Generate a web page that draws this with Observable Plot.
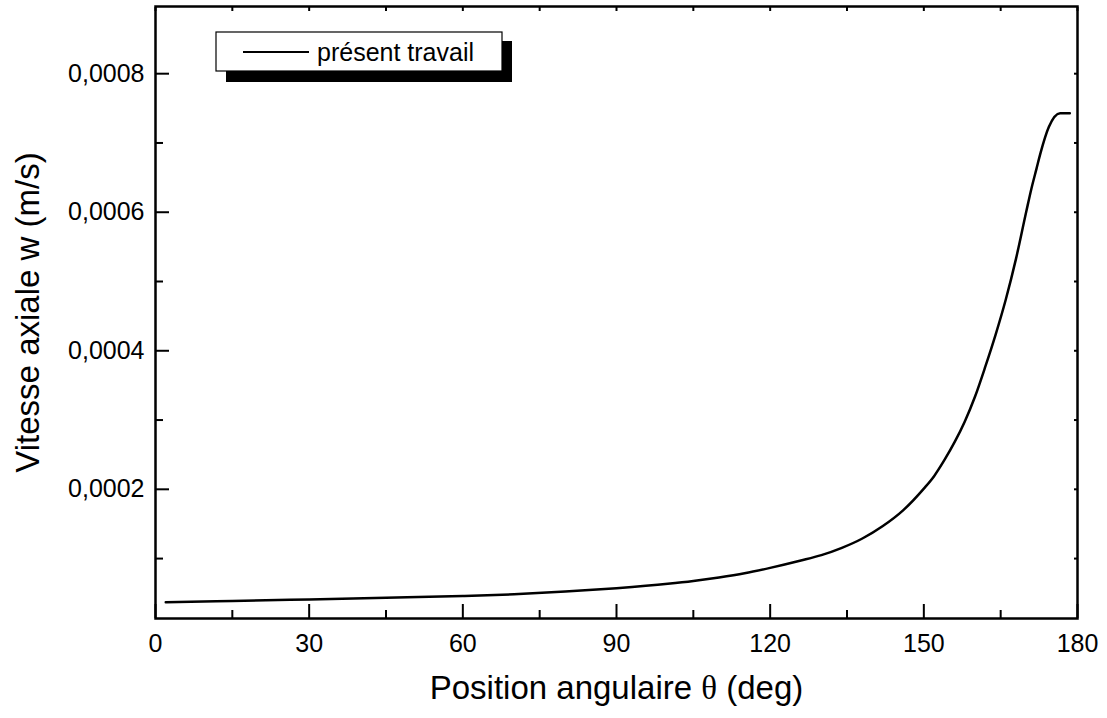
<!DOCTYPE html>
<html>
<head>
<meta charset="utf-8">
<script src="https://cdn.jsdelivr.net/npm/d3@7"></script>
<script src="https://cdn.jsdelivr.net/npm/@observablehq/plot@0.6"></script>
<style>
  html, body { margin: 0; padding: 0; background: #fff; }
  #chart svg { display: block; }
</style>
</head>
<body>
<div id="chart"></div>
<script>
// Axial velocity w along the angular position θ
const theta = [2, 15, 30, 45, 60, 70, 80, 90, 100, 105, 110, 115, 120, 126, 130, 134, 138, 142, 146, 150, 152, 154, 156, 158, 160, 162, 164, 166, 168, 170, 171, 172, 172.8, 174.4, 176.6, 178.5];
const w = [0.000037, 0.0000388, 0.000041, 0.0000434, 0.000046, 0.0000485, 0.0000523, 0.0000572, 0.0000635, 0.0000676, 0.0000727, 0.0000788, 0.0000866, 0.0000972, 0.000105, 0.0001155, 0.000129, 0.000147, 0.00017, 0.000201, 0.000219, 0.000242, 0.000268, 0.000298, 0.000334, 0.000377, 0.000423, 0.000474, 0.000533, 0.000601, 0.000634, 0.000663, 0.000686, 0.000723, 0.000743, 0.000743];

const xMajor = [0, 30, 60, 90, 120, 150, 180];
const xMinor = [15, 45, 75, 105, 135, 165];
const yMajor = [0.0002, 0.0004, 0.0006, 0.0008];
const yMinor = [0.0001, 0.0003, 0.0005, 0.0007];

const xTitle = "Position angulaire θ (deg)";
const yTitle = "Vitesse axiale w (m/s)";
const seriesName = "présent travail";

const rows = theta.map((t, i) => ({theta: t, w: w[i]}));
const frenchDecimal = d => d.toFixed(4).replace(".", ",");
const blank = () => "";

const plot = Plot.plot({
  width: 1107,
  height: 718,
  marginLeft: 155,
  marginRight: 30,
  marginTop: 6,
  marginBottom: 100,
  style: {fontFamily: "'Liberation Sans', Arial, sans-serif", fontSize: "25px", color: "#000", background: "#fff", overflow: "visible"},
  x: {domain: [0, 180]},
  y: {domain: [0.0000135, 0.000897]},
  marks: [
    // bottom axis: labels outside, ticks pointing into the frame
    Plot.axisX({ticks: xMajor, tickSize: 0, tickPadding: 16, label: null}),
    Plot.axisX({ticks: xMajor, tickSize: -14, tickFormat: blank, label: null, strokeWidth: 2}),
    Plot.axisX({ticks: xMinor, tickSize: -8, tickFormat: blank, label: null, strokeWidth: 2}),
    // top axis: short inward ticks only
    Plot.axisX({anchor: "top", ticks: xMajor.concat(xMinor), tickSize: -4, tickFormat: blank, label: null, strokeWidth: 2}),
    // left axis
    Plot.axisY({ticks: yMajor, tickSize: 0, tickPadding: 11, tickFormat: frenchDecimal, label: null}),
    Plot.axisY({ticks: yMajor, tickSize: -14, tickFormat: blank, label: null, strokeWidth: 2}),
    Plot.axisY({ticks: yMinor, tickSize: -8, tickFormat: blank, label: null, strokeWidth: 2}),
    // right axis: short inward ticks only
    Plot.axisY({anchor: "right", ticks: yMajor.concat(yMinor), tickSize: -4, tickFormat: blank, label: null, strokeWidth: 2}),
    Plot.frame({stroke: "#000", strokeWidth: 2.5}),
    Plot.line(rows, {x: "theta", y: "w", stroke: "#000", strokeWidth: 2.5, curve: "monotone-x"}),
    Plot.text([xTitle], {frameAnchor: "bottom", dy: 70, fontSize: 33, lineAnchor: "middle", textAnchor: "middle"}),
    Plot.text([yTitle], {frameAnchor: "left", dx: -127, rotate: -90, fontSize: 33, lineAnchor: "middle", textAnchor: "middle"})
  ]
});

// theta drawn in a serif face, like a symbol glyph
d3.select(plot).selectAll("text").each(function () {
  const t = this.textContent;
  if (!t.includes("θ")) return;
  const [before, after] = t.split("θ");
  const sel = d3.select(this);
  sel.text(null);
  sel.append("tspan").text(before);
  sel.append("tspan").attr("font-family", "'Liberation Serif', 'DejaVu Serif', serif").text("θ");
  sel.append("tspan").text(after);
});

// legend box with a drop shadow
const svg = d3.select(plot);
const legend = svg.append("g").attr("class", "legend");
legend.append("rect").attr("x", 226).attr("y", 41).attr("width", 286).attr("height", 41).attr("fill", "#000");
legend.append("rect").attr("x", 216).attr("y", 32).attr("width", 286).attr("height", 39).attr("fill", "#fff").attr("stroke", "#000").attr("stroke-width", 1.2);
legend.append("line").attr("x1", 243).attr("x2", 309).attr("y1", 52).attr("y2", 52).attr("stroke", "#000").attr("stroke-width", 2);
legend.append("text").attr("x", 317).attr("y", 61).attr("font-size", 25).attr("text-anchor", "start").attr("fill", "#000").text(seriesName);

document.getElementById("chart").appendChild(plot);
</script>
</body>
</html>
